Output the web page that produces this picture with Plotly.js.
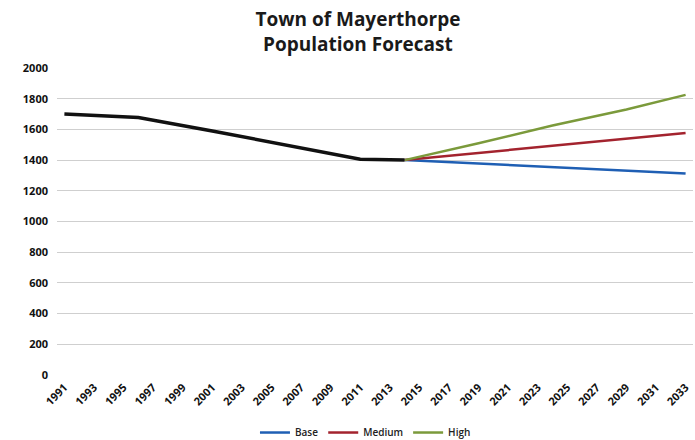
<!DOCTYPE html>
<html>
<head>
<meta charset="utf-8">
<script src="https://cdn.plot.ly/plotly-3.0.1.min.js"></script>
<style>html,body{margin:0;padding:0;background:#fff;}#chart{width:695px;height:440px;}</style>
</head>
<body>
<div id="chart"></div>
<script>
// Historic population
const histYears = [1991, 1996, 2001, 2006, 2011, 2014];
const histPop = [1700, 1678, 1590, 1495, 1405, 1400];
// Forecast
const fcYears = [2014, 2019, 2024, 2029, 2033];
const basePop = [1400, 1378, 1355, 1332, 1313];
const mediumPop = [1400, 1447, 1494, 1540, 1577];
const highPop = [1400, 1510, 1625, 1730, 1825];
// Axis ticks
const xTickVals = [1991,1993,1995,1997,1999,2001,2003,2005,2007,2009,2011,2013,2015,2017,2019,2021,2023,2025,2027,2029,2031,2033];
const xTickText = ["1991","1993","1995","1997","1999","2001","2003","2005","2007","2009","2011","2013","2015","2017","2019","2021","2023","2025","2027","2029","2031","2033"];
const yTickVals = [0,200,400,600,800,1000,1200,1400,1600,1800,2000];

const F = "Open Sans, Liberation Sans, sans-serif";

const traces = [
  {x: fcYears, y: basePop, name: "Base", mode: "lines", line: {color: "#1f5fb4", width: 2.5}},
  {x: fcYears, y: mediumPop, name: "Medium", mode: "lines", line: {color: "#a3232e", width: 2.5}},
  {x: fcYears, y: highPop, name: "High", mode: "lines", line: {color: "#7b9a3b", width: 2.5}},
  {x: histYears, y: histPop, name: "Historic", mode: "lines", showlegend: false, line: {color: "#111111", width: 3.5}}
];

const layout = {
  width: 695, height: 440,
  margin: {l: 57, r: 2, t: 68, b: 65},
  paper_bgcolor: "#fff", plot_bgcolor: "#fff",
  title: {text: "Town of Mayerthorpe<br>Population Forecast", x: 0.515, xanchor: "center",
          yref: "container", y: 0.94, yanchor: "top",
          font: {family: F, size: 19, color: "#1a1a1a", weight: 700}},
  xaxis: {range: [1990.5, 2033.5], tickmode: "array", tickvals: xTickVals, ticktext: xTickText,
          tickangle: -45, showgrid: false, zeroline: false, showline: false, ticks: "", automargin: false,
          ticklabelstandoff: 3,
          tickfont: {family: F, size: 11, color: "#111", weight: 700}},
  yaxis: {range: [0, 2000], tickmode: "array", tickvals: yTickVals, showgrid: true, gridcolor: "#cfcfcf",
          gridwidth: 1, zeroline: false, showline: false, ticks: "", ticklabelstandoff: 8, automargin: false,
          tickfont: {family: F, size: 11, color: "#111", weight: 700}},
  legend: {orientation: "h", x: 0.485, xanchor: "center", yref: "container", y: 0.017, yanchor: "middle",
           font: {family: F, size: 10, color: "#222", weight: 600}, itemwidth: 30, tracegroupgap: 0},
  showlegend: true
};

Plotly.newPlot("chart", traces, layout, {displayModeBar: false, staticPlot: true});
</script>
</body>
</html>
